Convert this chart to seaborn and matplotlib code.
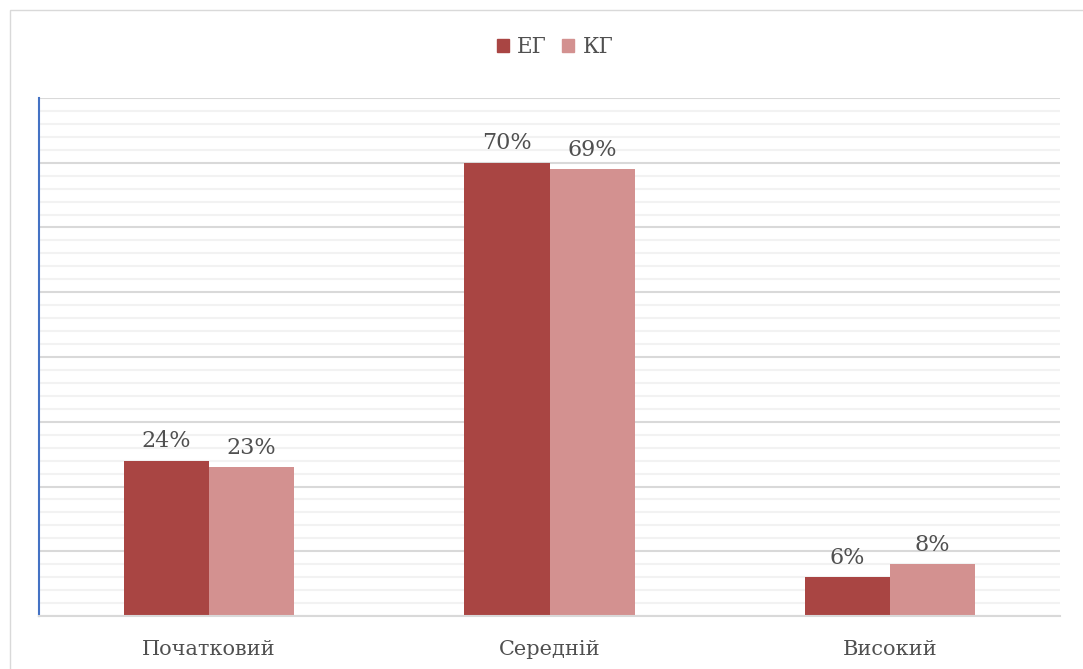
import matplotlib
matplotlib.use("Agg")
import matplotlib.pyplot as plt
import seaborn as sns
import pandas as pd
from matplotlib.patches import Rectangle

categories = ["Початковий", "Середній", "Високий"]
groups = ["ЕГ", "КГ"]
eg_values = [24, 70, 6]
kg_values = [23, 69, 8]
colors = ["#A94543", "#D39190"]

df = pd.DataFrame({
    "category": categories * 2,
    "group": [groups[0]] * 3 + [groups[1]] * 3,
    "value": eg_values + kg_values,
})

sns.set_theme(style="white")
plt.rcParams["font.family"] = ["DejaVu Serif"]

fig = plt.figure(figsize=(10.83, 6.69), dpi=100)
ax = fig.add_axes([39 / 1083, 53 / 669, (1060 - 39) / 1083, (616 - 98) / 669])

sns.barplot(data=df, x="category", y="value", hue="group", palette=colors,
            width=0.5, ax=ax, legend=False, saturation=1, order=categories,
            hue_order=groups, linewidth=0)

ax.set_ylim(0, 80)
ax.set_xlim(-0.5, 2.5)
for y in range(0, 81, 2):
    if y % 10 == 0:
        ax.axhline(y, color="#D9D9D9", lw=1.5, zorder=0)
    else:
        ax.axhline(y, color="#F2F2F2", lw=1.5, zorder=0)
ax.set_axisbelow(True)

txt = "#505050"
for c in ax.containers:
    labels = [f"{int(round(b.get_height()))}%" for b in c]
    ax.bar_label(c, labels=labels, padding=6, fontsize=16, color=txt)

ax.set_xlabel("")
ax.set_ylabel("")
ax.set_yticks([])
ax.tick_params(axis="x", length=0, pad=17, labelsize=15, labelcolor=txt)
for s in ["top", "right"]:
    ax.spines[s].set_visible(False)
ax.spines["bottom"].set_color("#D9D9D9")
ax.spines["bottom"].set_linewidth(1.5)
ax.spines["left"].set_color("#4472C4")
ax.spines["left"].set_linewidth(1.5)

handles = [Rectangle((0, 0), 1, 1, color=c) for c in colors]
fig.legend(handles, groups, loc="center", bbox_to_anchor=(555 / 1083, 1 - 47 / 669),
           ncol=2, frameon=False, fontsize=15.5, handlelength=0.55, handleheight=0.55,
           handletextpad=0.4, columnspacing=0.7, labelcolor=txt)

fig.add_artist(Rectangle((10 / 1083, -0.01), 1.5, 1 - 10 / 669 + 0.01,
                         transform=fig.transFigure, fill=False,
                         edgecolor="#D9D9D9", lw=1))

fig.savefig("out.png", dpi=100)
